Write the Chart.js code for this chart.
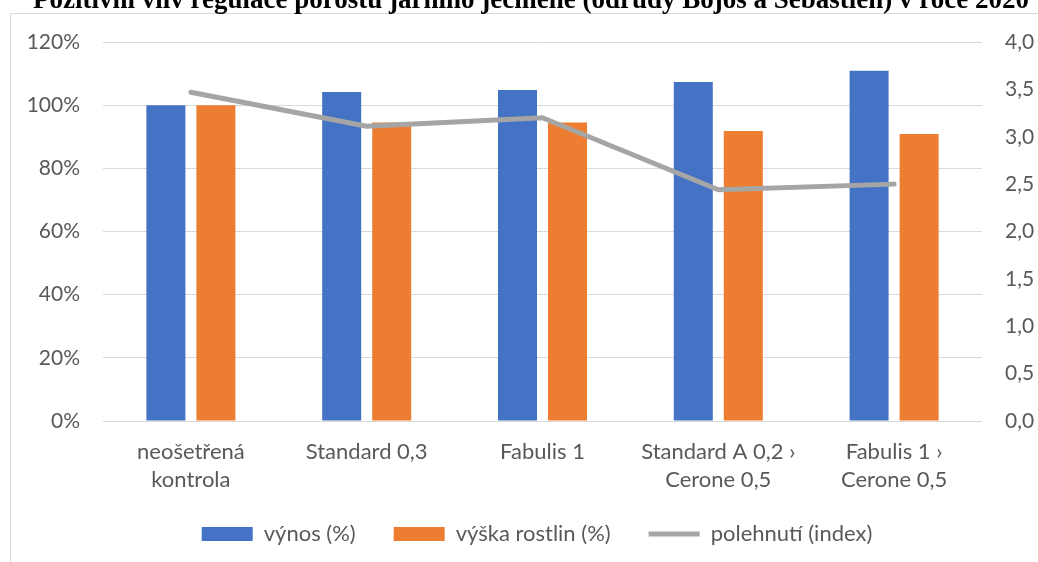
<!DOCTYPE html>
<html>
<head>
<meta charset="utf-8">
<script src="https://cdn.jsdelivr.net/npm/chart.js@4"></script>
<style>
  html, body { margin: 0; padding: 0; background: #fff; }
  #wrap { position: relative; width: 1038px; height: 562px; overflow: hidden; }
  #frame { position: absolute; left: 10px; top: 13px; width: 1100px; height: 600px;
           border-left: 1px solid #d9d9d9; border-top: 1px solid #d9d9d9; }
  #chart { position: absolute; left: 0; top: 0; }
</style>
</head>
<body>
<div id="wrap">
  <div id="frame"></div>
  <canvas id="chart" width="1038" height="562"></canvas>
</div>
<script>
// data
var categories = [
  ["neošetřená", "kontrola"],
  ["Standard 0,3"],
  ["Fabulis 1"],
  ["Standard A 0,2 ›", "Cerone 0,5"],
  ["Fabulis 1 ›", "Cerone 0,5"]
];
var vynos = [100, 104.2, 104.8, 107.3, 110.9];
var vyska = [100, 94.5, 94.5, 91.8, 90.9];
var polehnuti = [3.47, 3.11, 3.20, 2.44, 2.50];

var titleText = "Pozitivní vliv regulace porostu jarního ječmene (odrudy Bojos a Sebastien) v roce 2020";

var tickFont = { family: "Lato", size: 21 };
var textColor = "#595959";

// title is cut off at the top of the picture, so draw it by hand
const cutTitle = {
  id: "cutTitle",
  afterLayout(chart) {
    // legend sits a bit closer to the axis labels than chart.js leaves room for
    chart.legend.top -= 9;
    chart.legend.bottom -= 9;
  },
  afterDraw(chart) {
    const ctx = chart.ctx;
    ctx.save();
    ctx.font = "bold 27px 'Liberation Serif'";
    ctx.fillStyle = "#000";
    ctx.textAlign = "center";
    ctx.textBaseline = "alphabetic";
    ctx.fillText(titleText, 531, 8);
    ctx.restore();
  }
};

new Chart("chart", {
  type: "bar",
  data: {
    labels: categories,
    datasets: [{
      label: "výnos (%)",
      data: vynos,
      backgroundColor: "#4472C4",
      borderWidth: 0,
      yAxisID: "y",
      order: 2,
      pointStyle: "rect",
      categoryPercentage: 0.569,
      barPercentage: 0.78
    }, {
      label: "výška rostlin (%)",
      data: vyska,
      backgroundColor: "#ED7D31",
      borderWidth: 0,
      yAxisID: "y",
      order: 2,
      pointStyle: "rect",
      categoryPercentage: 0.569,
      barPercentage: 0.78
    }, {
      type: "line",
      label: "polehnutí (index)",
      data: polehnuti,
      borderColor: "#A5A5A5",
      backgroundColor: "#A5A5A5",
      borderWidth: 5,
      borderCapStyle: "round",
      borderJoinStyle: "round",
      pointRadius: 0,
      pointStyle: "line",
      tension: 0,
      yAxisID: "y1",
      order: 1
    }]
  },
  options: {
    responsive: false,
    animation: false,
    layout: {
      padding: { left: 0, right: -36, top: 42, bottom: -2 }
    },
    plugins: {
      title: { display: false },
      tooltip: { enabled: false },
      legend: {
        display: true,
        position: "bottom",
        labels: {
          usePointStyle: true,
          pointStyleWidth: 51,
          boxHeight: 14,
          padding: 38,
          color: textColor,
          font: { family: "Lato", size: 22 },
          sort: (a, b) => a.datasetIndex - b.datasetIndex
        }
      }
    },
    scales: {
      x: {
        grid: { display: false, drawTicks: false },
        border: { display: false },
        ticks: {
          color: textColor,
          font: { family: "Lato", size: 22, lineHeight: 1.27 },
          padding: 17,
          maxRotation: 0,
          autoSkip: false
        },
        afterFit: (s) => { s.height = 73; }
      },
      y: {
        position: "left",
        min: 0,
        max: 120,
        grid: { color: "#d9d9d9", lineWidth: 1, drawTicks: false },
        border: { display: false },
        ticks: {
          stepSize: 20,
          color: textColor,
          font: tickFont,
          padding: 23,
          callback: (v) => v + "%"
        },
        afterFit: (s) => { s.width = 103; }
      },
      y1: {
        position: "right",
        min: 0,
        max: 4,
        grid: { display: false, drawTicks: false },
        border: { display: false },
        ticks: {
          stepSize: 0.5,
          color: textColor,
          font: tickFont,
          padding: 23,
          callback: (v) => v.toFixed(1).replace(".", ",")
        },
        afterFit: (s) => { s.width = 92; }
      }
    }
  },
  plugins: [cutTitle]
});
</script>
</body>
</html>
